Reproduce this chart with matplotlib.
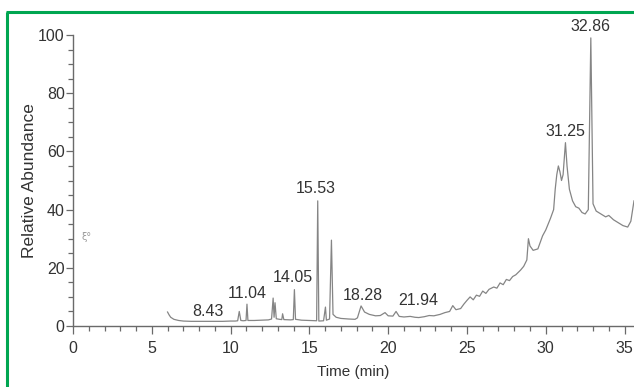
import matplotlib
matplotlib.use("Agg")
import matplotlib.pyplot as plt
from matplotlib.ticker import MultipleLocator
from matplotlib.lines import Line2D

plt.rcParams['font.family'] = ['Liberation Sans', 'DejaVu Sans']

# Total ion chromatogram: retention time (min) vs relative abundance (%)
time_min = [
    6.0, 6.1, 6.2, 6.4, 6.7, 7.0, 7.5, 8.0, 8.43, 9.0, 9.5, 10.0, 10.3,
    10.45, 10.55, 10.65, 10.8, 10.98, 11.04, 11.1, 11.5, 12.0, 12.4, 12.6,
    12.7, 12.76, 12.82, 12.9, 13.1, 13.25, 13.3, 13.38, 13.8, 13.98, 14.05,
    14.12, 14.5, 15.0, 15.46, 15.53, 15.6, 15.9, 16.02, 16.08, 16.28, 16.4,
    16.5, 16.7, 17.0, 17.5, 17.9, 18.05, 18.28, 18.5, 18.8, 19.2, 19.5,
    19.8, 20.0, 20.3, 20.5, 20.7, 21.0, 21.4, 21.7, 21.94, 22.3, 22.6, 22.9,
    23.3, 23.6, 23.9, 24.1, 24.3, 24.6, 24.8, 25.0, 25.2, 25.4, 25.6, 25.8,
    26.0, 26.2, 26.4, 26.7, 26.9, 27.1, 27.3, 27.5, 27.7, 27.9, 28.1, 28.4,
    28.6, 28.8, 28.9, 29.0, 29.2, 29.5, 29.8, 30.0, 30.3, 30.5, 30.6, 30.7,
    30.8, 30.9, 31.0, 31.1, 31.25, 31.35, 31.5, 31.7, 31.9, 32.1, 32.3,
    32.5, 32.7, 32.86, 33.0, 33.2, 33.5, 33.8, 34.0, 34.3, 34.6, 34.9, 35.2,
    35.4, 35.6,
]
abundance = [
    4.8, 3.8, 3.0, 2.3, 1.9, 1.7, 1.6, 1.6, 1.6, 1.6, 1.6, 1.7, 1.7,
    1.8, 5.0, 1.9, 1.8, 1.9, 7.5, 1.9, 1.9, 2.0, 2.1, 2.4,
    9.6, 3.0, 8.0, 2.5, 2.3, 2.2, 4.2, 2.2, 2.1, 2.2, 12.5,
    2.3, 2.0, 1.9, 1.8, 43.0, 1.7, 1.8, 6.5, 2.0, 2.4, 29.5,
    4.0, 3.0, 2.6, 2.4, 2.3, 2.8, 6.9, 4.8, 4.0, 3.5, 3.6,
    4.6, 3.5, 3.4, 5.0, 3.3, 3.1, 3.3, 3.0, 2.9, 3.2, 3.6, 3.5,
    4.0, 4.6, 5.0, 7.0, 5.6, 6.0, 7.5, 8.8, 10.0, 9.0, 10.6, 10.2,
    12.0, 11.2, 12.6, 13.4, 13.0, 14.8, 14.2, 16.0, 15.6, 17.0, 17.6, 19.2,
    20.5, 22.7, 30.0, 27.5, 26.0, 26.5, 31.0, 33.0, 37.0, 40.0, 47.0, 52.0,
    55.0, 53.0, 50.0, 52.0, 63.0, 55.0, 47.0, 43.0, 41.0, 40.5, 39.0,
    38.5, 40.0, 99.0, 42.0, 39.5, 38.5, 37.5, 38.0, 36.5, 35.5, 34.5, 34.0,
    36.0, 43.0,
]

# Retention times printed over the main peaks
peak_times = [8.43, 11.04, 14.05, 15.53, 18.28, 21.94, 31.25, 32.86]
peak_label_offsets = [(1.5, 2), (0.5, 2), (-1, 3), (-1.5, 3.5),
                      (1.5, 2), (0, 7), (0, 3), (0, 2.5)]

x_ticks = [0, 5, 10, 15, 20, 25, 30, 35]
y_ticks = [0, 20, 40, 60, 80, 100]

fig = plt.figure(figsize=(6.34, 3.87), dpi=100)
ax = fig.add_axes([73 / 634, 1 - 326 / 387, (634 - 73) / 634, (326 - 35) / 387])

ax.plot(time_min, abundance, color='#858585', lw=0.9, clip_on=False)

for t, (dx, dy) in zip(peak_times, peak_label_offsets):
    a = abundance[time_min.index(t)]
    ax.annotate(f"{t:.2f}", xy=(t, a), xytext=(dx, dy), textcoords='offset points',
                ha='center', va='bottom', fontsize=11.5, color='#333333',
                annotation_clip=False)

ax.set_xlim(0, 35.6)
ax.set_ylim(0, 100)
ax.set_xticks(x_ticks)
ax.set_yticks(y_ticks)
ax.xaxis.set_minor_locator(MultipleLocator(1))
ax.yaxis.set_minor_locator(MultipleLocator(5))

for side in ('top', 'right'):
    ax.spines[side].set_visible(False)
for side in ('left', 'bottom'):
    ax.spines[side].set_color('#6a6a6a')
    ax.spines[side].set_linewidth(1.0)

ax.tick_params(axis='both', which='both', direction='out', color='#6a6a6a',
               width=0.9, labelcolor='#333333', labelsize=11.5)
ax.tick_params(axis='x', which='major', length=5.5, pad=5)
ax.tick_params(axis='x', which='minor', length=3.5)
ax.tick_params(axis='y', which='major', length=5, pad=1)
ax.tick_params(axis='y', which='minor', length=3.5)

ax.set_xlabel('Time (min)', fontsize=11, color='#333333', labelpad=7)
ax.set_ylabel('Relative Abundance', fontsize=12.5, color='#333333', labelpad=1)

# small pencil mark beside the 30 % level
ax.text(0.55, 30.5, 'ξ°', fontsize=7, color='#9a9a9a', va='center', ha='left',
        family=['DejaVu Sans'])

# green frame around the figure (left and top edges)
green = '#00a651'
fig.add_artist(Line2D([7 / 634, 7 / 634], [0, 1 - 12 / 387], color=green,
                      lw=2.2, transform=fig.transFigure, solid_capstyle='butt'))
fig.add_artist(Line2D([6 / 634, 1], [1 - 12 / 387, 1 - 12 / 387], color=green,
                      lw=2.2, transform=fig.transFigure, solid_capstyle='butt'))

fig.savefig('out.png', dpi=100, facecolor='white')
